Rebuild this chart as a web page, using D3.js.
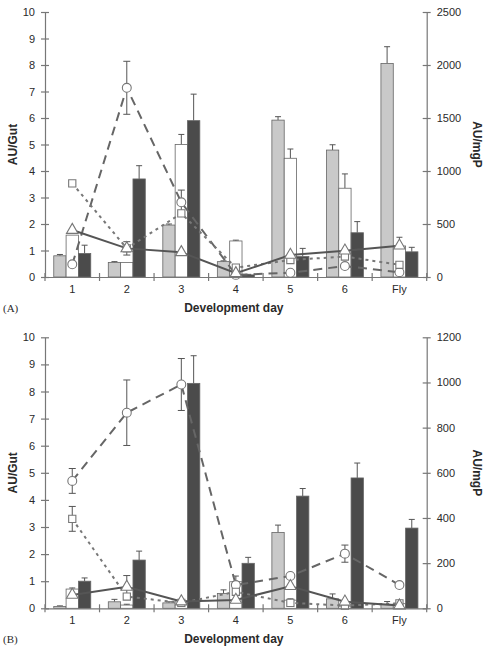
<!DOCTYPE html>
<html><head><meta charset="utf-8">
<script src="https://cdn.jsdelivr.net/npm/d3@7"></script>
<style>body{margin:0;background:#fff}svg{display:block}</style>
</head><body>
<svg id="chart" width="495" height="647"></svg>
<script>
const categories = ["1","2","3","4","5","6","Fly"];
const leftTicks = [0,1,2,3,4,5,6,7,8,9,10];
const rightTicksA = [0,500,1000,1500,2000,2500];
const rightTicksB = [0,200,400,600,800,1000,1200];

// Panel A bars (AU/Gut)
const aGray = [0.8, 0.55, 1.96, 0.58, 5.92, 4.79, 8.06];
const aGrayErr = [0.05, 0.03, 0.04, 0.03, 0.13, 0.2, 0.63];
const aWhite = [1.58, 0.55, 5.0, 1.36, 4.48, 3.35, 1.17];
const aWhiteErr = [0, 0, 0.38, 0.03, 0.35, 0.54, 0.33];
const aDark = [0.89, 3.7, 5.9, 0.08, 0.77, 1.67, 0.95];
const aDarkErr = [0.31, 0.5, 1.0, 0.02, 0.31, 0.42, 0.17];
// Panel A lines (AU/mgP)
const aCircle = [120, 1785, 705, 20, 40, 103, 45];
const aCircleErr = [0, 250, 115, 0, 0, 0, 0];
const aSquare = [883, 270, 600, 88, 160, 193, 115];
const aSquareErr = [0, 63, 0, 0, 0, 0, 0];
const aTriangle = [443, 270, 233, 35, 208, 248, 295];
const aTriangleErr = [0, 0, 0, 0, 0, 0, 0];

// Panel B bars (AU/Gut)
const bGray = [0.07, 0.24, 0.2, 0.55, 2.8, 0.35, 0.15];
const bGrayErr = [0.02, 0.09, 0.04, 0.13, 0.27, 0.18, 0.1];
const bWhite = [0.71, 0.12, 0.27, 0.98, 0.3, 0.08, 0.17];
const bWhiteErr = [0.04, 0.03, 0.05, 0.21, 0.05, 0.02, 0.1];
const bDark = [1.0, 1.78, 8.3, 1.66, 4.14, 4.81, 2.96];
const bDarkErr = [0.12, 0.33, 1.02, 0.22, 0.28, 0.55, 0.32];
// Panel B lines (AU/mgP)
const bCircle = [564, 866, 991, 103, 143, 242, 103];
const bCircleErr = [55, 145, 115, 15, 0, 38, 0];
const bSquare = [396, 52, 24, 73, 24, 12, 22];
const bSquareErr = [55, 0, 0, 0, 0, 0, 0];
const bTriangle = [59, 95, 30, 37, 98, 29, 12];
const bTriangleErr = [0, 50, 0, 0, 0, 0, 0];

const svg = d3.select("#chart");
const axisColor = "#777";
const textColor = "#2a2a2a";
const font = "'Liberation Sans', Arial, sans-serif";

function panel(cfg) {
  const x0 = 45, x1 = 426.7;
  const x = d3.scaleBand().domain(categories).range([x0, x1]).padding(0);
  const bw = x.bandwidth();
  const groupW = 37;
  const xs = d3.scaleBand().domain(["gray","white","dark"]).range([(bw-groupW)/2, (bw+groupW)/2]);
  const yL = d3.scaleLinear().domain([0,10]).range([cfg.bottom, cfg.top]);
  const yR = d3.scaleLinear().domain([0, cfg.rightMax]).range([cfg.bottom, cfg.top]);
  const g = svg.append("g");

  // Bars
  const barSeries = [
    {key:"gray", vals:cfg.gray, err:cfg.grayErr, fill:"#c9c9c9"},
    {key:"white", vals:cfg.white, err:cfg.whiteErr, fill:"#ffffff"},
    {key:"dark", vals:cfg.dark, err:cfg.darkErr, fill:"#4b4b4b"}
  ];
  barSeries.forEach(s => {
    const data = categories.map((c,i)=>({c, v:s.vals[i], e:s.err[i]}));
    const bx = d => x(d.c) + xs(s.key);
    g.append("g").selectAll("line").data(data.filter(d=>d.e>0)).join("g").each(function(d){
      const cx = bx(d) + xs.bandwidth()/2;
      const sel = d3.select(this);
      sel.append("line").attr("x1",cx).attr("x2",cx).attr("y1",yL(d.v)).attr("y2",yL(d.v+d.e))
        .attr("stroke","#555").attr("stroke-width",1);
      sel.append("line").attr("x1",cx-3).attr("x2",cx+3).attr("y1",yL(d.v+d.e)).attr("y2",yL(d.v+d.e))
        .attr("stroke","#555").attr("stroke-width",1);
    });
    g.append("g").selectAll("rect").data(data).join("rect")
      .attr("x", bx).attr("width", xs.bandwidth())
      .attr("y", d=>yL(d.v)).attr("height", d=>yL(0)-yL(d.v))
      .attr("fill", s.fill).attr("stroke", "#666").attr("stroke-width", 0.8);
  });

  // Lines
  const cxOf = c => x(c) + bw/2;
  const lineSeries = [
    {vals:cfg.circle, err:cfg.circleErr, dash:"9,6", color:"#666", width:2, sym:"circle"},
    {vals:cfg.square, err:cfg.squareErr, dash:"3,4", color:"#777", width:2, sym:"square"},
    {vals:cfg.triangle, err:cfg.triangleErr, dash:null, color:"#555", width:2, sym:"triangle"}
  ];
  const line = d3.line().x(d=>cxOf(d.c)).y(d=>yR(d.v));
  lineSeries.forEach(s => {
    const data = categories.map((c,i)=>({c, v:s.vals[i], e:s.err[i]}));
    const p = g.append("path").datum(data).attr("d", line).attr("fill","none")
      .attr("stroke", s.color).attr("stroke-width", s.width);
    if (s.dash) p.attr("stroke-dasharray", s.dash);
  });
  lineSeries.forEach(s => {
    const data = categories.map((c,i)=>({c, v:s.vals[i], e:s.err[i]}));
    g.append("g").selectAll("g").data(data.filter(d=>d.e>0)).join("g").each(function(d){
      const cx = cxOf(d.c);
      const sel = d3.select(this);
      const lo = Math.max(0, d.v-d.e), hi = d.v+d.e;
      sel.append("line").attr("x1",cx).attr("x2",cx).attr("y1",yR(lo)).attr("y2",yR(hi)).attr("stroke","#555");
      [lo,hi].forEach(v=>sel.append("line").attr("x1",cx-3.5).attr("x2",cx+3.5).attr("y1",yR(v)).attr("y2",yR(v)).attr("stroke","#555"));
    });
  });
  const symTypes = {circle:d3.symbolCircle, square:d3.symbolSquare, triangle:d3.symbolTriangle};
  const symSize = {circle:62, square:52, triangle:58};
  lineSeries.forEach(s => {
    const data = categories.map((c,i)=>({c, v:s.vals[i]}));
    g.append("g").selectAll("path").data(data).join("path")
      .attr("transform", d=>`translate(${cxOf(d.c)},${yR(d.v)})`)
      .attr("d", d3.symbol().type(symTypes[s.sym]).size(symSize[s.sym]))
      .attr("fill","#fff").attr("stroke","#777").attr("stroke-width",1.1);
  });

  // Axes
  const axL = d3.axisLeft(yL).tickValues(leftTicks).tickFormat(d3.format("d")).tickSizeInner(4).tickSizeOuter(0).tickPadding(6);
  const gl = g.append("g").attr("transform",`translate(${x0},0)`).call(axL);
  const axR = d3.axisRight(yR).tickValues(cfg.rightTicks).tickFormat(d3.format("d")).tickSizeInner(4).tickSizeOuter(0).tickPadding(6);
  const gr = g.append("g").attr("transform",`translate(${x1},0)`).call(axR);
  const axB = d3.axisBottom(x).tickSize(0).tickPadding(8);
  const gb = g.append("g").attr("transform",`translate(0,${cfg.bottom})`).call(axB);
  [gl,gr,gb].forEach(a=>{
    a.select(".domain").attr("stroke",axisColor).attr("stroke-width",1.2);
    a.selectAll(".tick line").attr("stroke",axisColor).attr("stroke-width",1.2);
    a.selectAll("text").attr("fill",textColor).style("font-family",font).style("font-size","11px");
  });
  gl.selectAll(".tick line").attr("x2",4).attr("x1",-4);
  gr.selectAll(".tick line").attr("x1",-4).attr("x2",4);
  gb.selectAll(".tick text").attr("dy","0.71em");
  // category boundary ticks on x-axis
  const bounds = categories.map(c=>x(c)).concat([x1]);
  g.append("g").selectAll("line").data(bounds).join("line")
    .attr("x1",d=>d).attr("x2",d=>d).attr("y1",cfg.bottom-4).attr("y2",cfg.bottom+4)
    .attr("stroke",axisColor).attr("stroke-width",1.2);

  const midY = (cfg.top+cfg.bottom)/2;
  g.append("text").attr("transform",`translate(17,${midY}) rotate(-90)`).attr("text-anchor","middle")
    .style("font-family",font).style("font-size","12px").style("font-weight","bold").attr("fill",textColor).text("AU/Gut");
  g.append("text").attr("transform",`translate(473,${midY}) rotate(90)`).attr("text-anchor","middle")
    .style("font-family",font).style("font-size","12px").style("font-weight","bold").attr("fill",textColor).text("AU/mgP");
  g.append("text").attr("x",(x0+x1)/2 - 2).attr("y",cfg.bottom+35).attr("text-anchor","middle")
    .style("font-family",font).style("font-size","12px").style("font-weight","bold").attr("fill",textColor).text("Development day");
  g.append("text").attr("x",3).attr("y",cfg.bottom+35)
    .style("font-family","'Liberation Serif', 'Times New Roman', serif").style("font-size","11px").attr("fill",textColor).text(cfg.label);
}

panel({top:12, bottom:277, rightMax:2500, rightTicks:rightTicksA, label:"(A)",
  gray:aGray, grayErr:aGrayErr, white:aWhite, whiteErr:aWhiteErr, dark:aDark, darkErr:aDarkErr,
  circle:aCircle, circleErr:aCircleErr, square:aSquare, squareErr:aSquareErr, triangle:aTriangle, triangleErr:aTriangleErr});
panel({top:337.3, bottom:608.3, rightMax:1200, rightTicks:rightTicksB, label:"(B)",
  gray:bGray, grayErr:bGrayErr, white:bWhite, whiteErr:bWhiteErr, dark:bDark, darkErr:bDarkErr,
  circle:bCircle, circleErr:bCircleErr, square:bSquare, squareErr:bSquareErr, triangle:bTriangle, triangleErr:bTriangleErr});
</script>
</body></html>
